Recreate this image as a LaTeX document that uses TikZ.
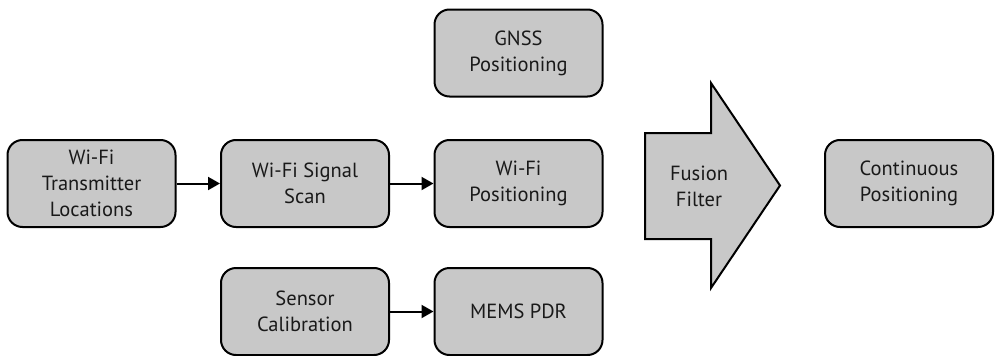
\documentclass[tikz,border=0pt]{standalone}
\usepackage{fontspec}
\setmainfont{PT Sans}
\usetikzlibrary{arrows.meta}
\definecolor{boxgray}{RGB}{200,200,200}
\definecolor{txt}{RGB}{25,25,25}
\tikzset{
  blk/.style={draw=black, line width=2pt, fill=boxgray, rounded corners=15pt,
    minimum width=168pt, minimum height=87pt, inner sep=0pt, align=center,
    text=txt, font=\fontsize{20.5}{26}\selectfont},
  conn/.style={line width=2pt, -{Triangle[length=12pt,width=13pt]}},
  fusionshape/.style={draw=black, line width=2pt, fill=boxgray, line join=miter},
  lbl/.style={align=center, text=txt, font=\fontsize{20.5}{26}\selectfont}
}
\begin{document}
\begin{tikzpicture}[x=1pt,y=-1pt]
\useasboundingbox (0,0) rectangle (996,356);
\node[blk] (wtl) at (91.5,183.5) {Wi-Fi\\Transmitter\\Locations};
\node[blk] (wss) at (305,183.5) {Wi-Fi Signal\\Scan};
\node[blk] (gnss) at (518.5,53) {GNSS\\Positioning};
\node[blk] (wpos) at (518.5,183.5) {Wi-Fi\\Positioning};
\node[blk] (scal) at (305,311.5) {Sensor\\Calibration};
\node[blk] (mems) at (518.5,311.5) {MEMS PDR};
\node[blk] (cont) at (909,183.5) {Continuous\\Positioning};
\draw[fusionshape] (645,133) -- (711,133) -- (711,83) -- (780,185.5) -- (711,288) -- (711,239) -- (645,239) -- cycle;
\node[lbl] (fus) at (699,186) {Fusion\\Filter};
\draw[conn] (wtl) -- (wss);
\draw[conn] (wss) -- (wpos);
\draw[conn] (scal) -- (mems);
\end{tikzpicture}
\end{document}
